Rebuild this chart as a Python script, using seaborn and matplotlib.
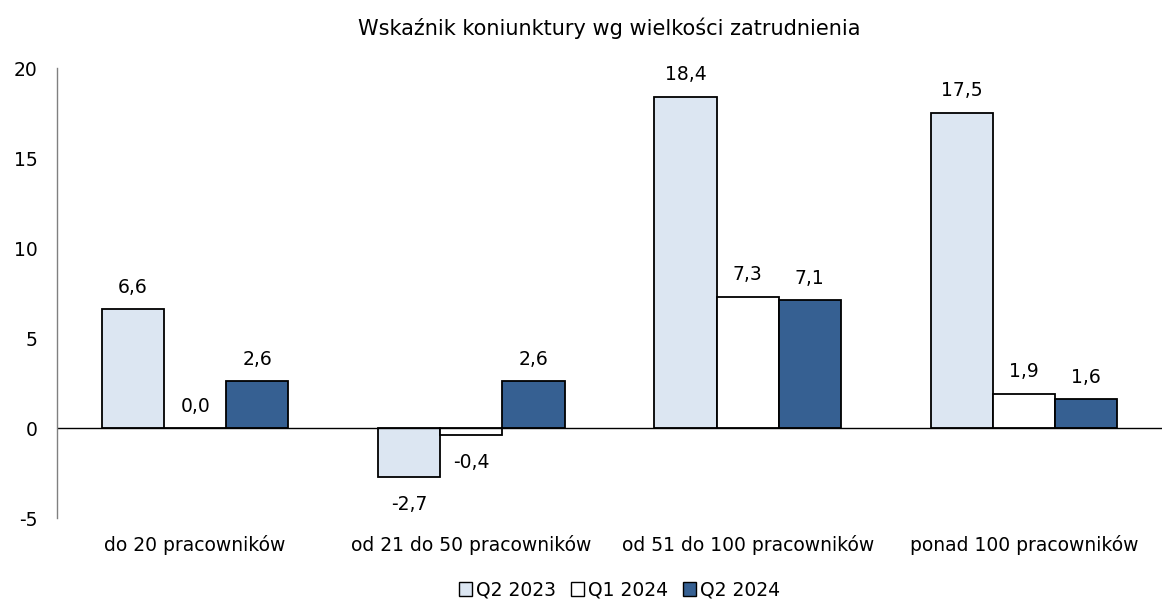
import matplotlib
matplotlib.use("Agg")
import matplotlib.pyplot as plt
import seaborn as sns
import pandas as pd
from matplotlib.patches import Patch

categories = ["do 20 pracowników", "od 21 do 50 pracowników", "od 51 do 100 pracowników", "ponad 100 pracowników"]
series = ["Q2 2023", "Q1 2024", "Q2 2024"]
q2_2023 = [6.6, -2.7, 18.4, 17.5]
q1_2024 = [0.0, -0.4, 7.3, 1.9]
q2_2024 = [2.6, 2.6, 7.1, 1.6]
colors = ["#DCE6F2", "#FFFFFF", "#366092"]
yticks = [-5, 0, 5, 10, 15, 20]
title = "Wskaźnik koniunktury wg wielkości zatrudnienia"

rows = []
for s, vals in zip(series, [q2_2023, q1_2024, q2_2024]):
    for c, v in zip(categories, vals):
        rows.append({"cat": c, "series": s, "val": v})
df = pd.DataFrame(rows)

sns.set_theme(style="white")
plt.rcParams['font.family'] = ['DejaVu Sans']
plt.rcParams['text.color'] = 'black'
plt.rcParams['xtick.color'] = 'black'
plt.rcParams['ytick.color'] = 'black'

fs = 13.5

fig = plt.figure(figsize=(11.64, 6.03), dpi=100)
ax = fig.add_axes([57/1164, 85/603, 1105/1164, 450/603])

sns.barplot(data=df, x="cat", y="val", hue="series", palette=colors,
            order=categories, hue_order=series, width=0.675, gap=0,
            saturation=1, edgecolor="black", linewidth=1.3, ax=ax,
            legend=False, errorbar=None)

ax.set_ylim(-5, 20)
ax.set_yticks(yticks)
ax.set_yticklabels([str(t) for t in yticks], fontsize=fs)
ax.tick_params(axis='y', length=0, pad=14)
ax.tick_params(axis='x', length=0, pad=12, labelsize=fs)
ax.set_xlim(-0.5, 3.5)
ax.set_xlabel("")
ax.set_ylabel("")
for sp in ["top", "right", "bottom"]:
    ax.spines[sp].set_visible(False)
ax.spines["left"].set_color("#808080")
ax.spines["left"].set_linewidth(1.0)
ax.axhline(0, color="black", linewidth=1.0, zorder=1)

for cont in ax.containers:
    for bar in cont:
        v = bar.get_height()
        x = bar.get_x() + bar.get_width() / 2
        lbl = f"{v:.1f}".replace(".", ",")
        if v >= 0:
            ax.annotate(lbl, (x, v), xytext=(0, 9), textcoords="offset points",
                        ha="center", va="bottom", fontsize=fs)
        else:
            ax.annotate(lbl, (x, v), xytext=(0, -13), textcoords="offset points",
                        ha="center", va="top", fontsize=fs)

ax.set_title(title, fontsize=15, pad=24)

handles = [Patch(facecolor=c, edgecolor="black", linewidth=1) for c in colors]
fig.legend(handles, series, loc="center", bbox_to_anchor=(0.532, 1 - 590/603),
           ncol=3, frameon=False, fontsize=fs, handlelength=0.7, handleheight=0.7,
           handletextpad=0.2, columnspacing=0.8)

fig.savefig("out.png", dpi=100)
